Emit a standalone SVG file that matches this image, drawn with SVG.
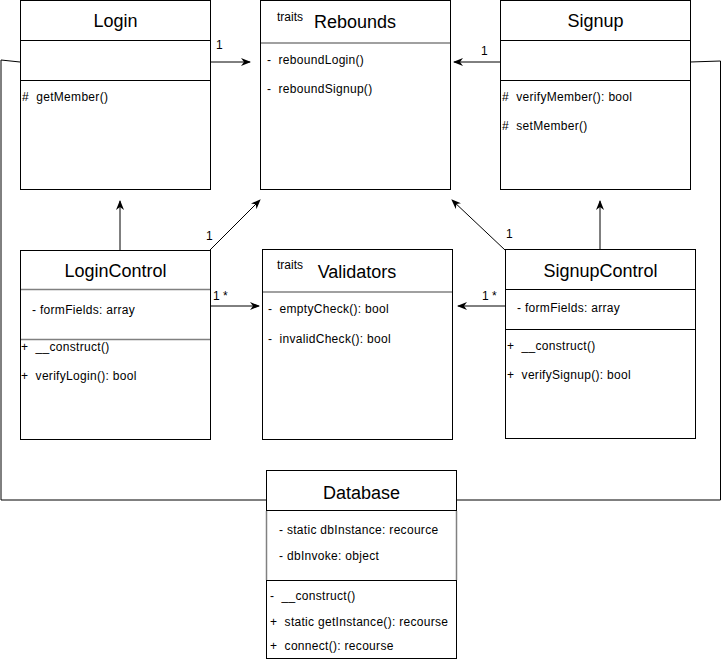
<svg xmlns="http://www.w3.org/2000/svg" width="722" height="661" viewBox="0 0 722 661">
<defs>
<style>
.box{fill:#fff;stroke:#000;stroke-width:1}
.div{stroke:#000;stroke-width:1}
.gdiv{stroke:#808080;stroke-width:1.5}
.title{font-family:"Liberation Sans",Arial,sans-serif;font-size:18px;fill:#000;text-anchor:middle}
.mem{font-family:"Liberation Sans",Arial,sans-serif;font-size:12px;fill:#000;white-space:pre;letter-spacing:0.3px}
.small{font-family:"Liberation Sans",Arial,sans-serif;font-size:12px;fill:#000}
.edge{fill:none;stroke:#000;stroke-width:1}
</style>
<marker id="arr" viewBox="0 0 10 8" refX="9" refY="4" markerWidth="10" markerHeight="8" markerUnits="userSpaceOnUse" orient="auto">
<path d="M0,0 L10,4 L0,8 L3,4 z" fill="#000"/>
</marker>
</defs>
<rect width="722" height="661" fill="#fff"/>

<g id="connectors">
<line class="edge" x1="210" y1="62" x2="250" y2="62" marker-end="url(#arr)"/>
<text class="small" x="216" y="49">1</text>
<line class="edge" x1="500" y1="62" x2="454" y2="62" marker-end="url(#arr)"/>
<text class="small" x="481" y="55">1</text>
<line class="edge" x1="120" y1="250" x2="120" y2="201" marker-end="url(#arr)"/>
<line class="edge" x1="210" y1="250" x2="260" y2="200" marker-end="url(#arr)"/>
<text class="small" x="206" y="240">1</text>
<line class="edge" x1="210" y1="306" x2="259" y2="306" marker-end="url(#arr)"/>
<text class="small" x="213" y="300">1 *</text>
<line class="edge" x1="600" y1="249" x2="600" y2="201" marker-end="url(#arr)"/>
<line class="edge" x1="505" y1="250" x2="452" y2="200" marker-end="url(#arr)"/>
<text class="small" x="506" y="238">1</text>
<line class="edge" x1="505" y1="306" x2="458" y2="306" marker-end="url(#arr)"/>
<text class="small" x="482" y="300">1 *</text>
<polyline class="edge" points="20,62 1,60 1,500 266,500"/>
<polyline class="edge" points="690,62 720.5,61 720.5,500 457,500"/>
</g>

<g id="Login">
<rect class="box" x="20.5" y="0.5" width="190" height="189"/>
<line class="div" x1="20.5" y1="40.5" x2="210.5" y2="40.5"/>
<line class="div" x1="20.5" y1="80.5" x2="210.5" y2="80.5"/>
<text class="title" x="115.5" y="27">Login</text>
<text class="mem" x="22" y="101">#  getMember()</text>
</g>

<g id="Rebounds">
<rect class="box" x="260.5" y="0.5" width="190" height="189"/>
<line class="gdiv" x1="261" y1="43" x2="450" y2="43"/>
<text class="small" x="277" y="21">traits</text>
<text class="title" x="355" y="28">Rebounds</text>
<text class="mem" x="267" y="64">-  reboundLogin()</text>
<text class="mem" x="267" y="93">-  reboundSignup()</text>
</g>

<g id="Signup">
<rect class="box" x="500.5" y="0.5" width="190" height="189"/>
<line class="div" x1="500.5" y1="40.5" x2="690.5" y2="40.5"/>
<line class="div" x1="500.5" y1="80.5" x2="690.5" y2="80.5"/>
<text class="title" x="595.5" y="27">Signup</text>
<text class="mem" x="502" y="101">#  verifyMember(): bool</text>
<text class="mem" x="502" y="130">#  setMember()</text>
</g>

<g id="LoginControl">
<rect class="box" x="20.5" y="250.5" width="190" height="189"/>
<line class="gdiv" x1="21" y1="289.5" x2="210" y2="289.5"/>
<line class="gdiv" x1="21" y1="339.5" x2="210" y2="339.5"/>
<text class="title" x="115.5" y="277">LoginControl</text>
<text class="mem" x="32" y="314">- formFields: array</text>
<text class="mem" x="21" y="351">+  __construct()</text>
<text class="mem" x="21" y="380">+  verifyLogin(): bool</text>
</g>

<g id="Validators">
<rect class="box" x="262.5" y="249.5" width="190" height="190"/>
<line class="gdiv" x1="263" y1="292" x2="452" y2="292"/>
<text class="small" x="277" y="269">traits</text>
<text class="title" x="357" y="278">Validators</text>
<text class="mem" x="268" y="313">-  emptyCheck(): bool</text>
<text class="mem" x="268" y="343">-  invalidCheck(): bool</text>
</g>

<g id="SignupControl">
<rect class="box" x="505.5" y="249.5" width="190" height="189"/>
<line class="div" x1="505.5" y1="289.5" x2="695.5" y2="289.5"/>
<line class="div" x1="505.5" y1="329.5" x2="695.5" y2="329.5"/>
<text class="title" x="600.5" y="277">SignupControl</text>
<text class="mem" x="517" y="312">- formFields: array</text>
<text class="mem" x="507" y="350">+  __construct()</text>
<text class="mem" x="507" y="379">+  verifySignup(): bool</text>
</g>

<g id="Database">
<rect class="box" x="266.5" y="470.5" width="190" height="188"/>
<line x1="266.5" y1="511" x2="266.5" y2="580" stroke="#808080" stroke-width="1.5"/>
<line x1="456.5" y1="511" x2="456.5" y2="580" stroke="#808080" stroke-width="1.5"/>
<line class="div" x1="266.5" y1="510.5" x2="456.5" y2="510.5"/>
<line class="div" x1="266.5" y1="580.5" x2="456.5" y2="580.5"/>
<text class="title" x="361.5" y="499">Database</text>
<text class="mem" x="279" y="534">- static dbInstance: recource</text>
<text class="mem" x="279" y="560">- dbInvoke: object</text>
<text class="mem" x="270" y="600">-  __construct()</text>
<text class="mem" x="270" y="626">+  static getInstance(): recourse</text>
<text class="mem" x="270" y="650">+  connect(): recourse</text>
</g>
</svg>
